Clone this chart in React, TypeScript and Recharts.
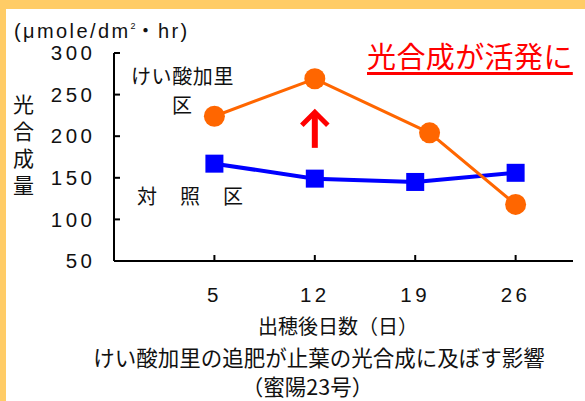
import { LineChart, Line, XAxis, YAxis, ReferenceLine } from "recharts";

// days after heading / photosynthesis (μmole/dm²・hr)
const silicaDays = [5, 12, 20, 26]; // third circle sits a bit right of the 19 tick in the original
const silicaValues = [224, 269, 204, 118];
const controlDays = [5, 12, 19, 26];
const controlValues = [167, 149, 145, 156];
const dayTicks = [5, 12, 19, 26];
const rateTicks = [50, 100, 150, 200, 250, 300];
const arrowSpan = [186, 230];

const silica = silicaDays.map((day, i) => ({ day, value: silicaValues[i] }));
const control = controlDays.map((day, i) => ({ day, value: controlValues[i] }));

const FONT = "'Noto Sans CJK JP', 'Noto Sans', sans-serif";
const LATIN = "'Liberation Sans', 'Noto Sans CJK JP', sans-serif";
const ORANGE = "#FF6600";
const BLUE = "#0000FF";
const RED = "#FF0000";

const SquareDot = (props: any) => {
  const { cx, cy, index } = props;
  if (cx == null || cy == null) return null;
  return <rect key={`sq-${index}`} x={cx - 9} y={cy - 9} width={18} height={18} fill={BLUE} />;
};

const UpArrow = (props: any) => {
  const { x1, y1, y2 } = props;
  const tip = Math.min(y1, y2);
  const base = Math.max(y1, y2);
  return (
    <g>
      <line x1={x1} y1={base} x2={x1} y2={tip + 3} stroke={RED} strokeWidth={6} />
      <polyline
        points={`${x1 - 13},${tip + 14} ${x1},${tip + 1} ${x1 + 13},${tip + 14}`}
        fill="none"
        stroke={RED}
        strokeWidth={5}
      />
    </g>
  );
};

const Note = ({ style, children }: { style: React.CSSProperties; children: React.ReactNode }) => (
  <div style={{ position: "absolute", whiteSpace: "nowrap", fontFamily: FONT, color: "#111", ...style }}>
    {children}
  </div>
);

const tickStyle = { fill: "#111", fontSize: 20.5, fontFamily: LATIN, letterSpacing: 3.5 };

export default function App() {
  return (
    <div style={{ position: "absolute", left: 0, top: 0, width: 585, height: 401, background: "#fff", overflow: "hidden" }}>
      <div style={{ position: "absolute", left: 0, top: 0, width: 585, height: 9, background: "#FFCC66" }} />
      <div style={{ position: "absolute", left: 0, top: 0, width: 6, height: 401, background: "#FFCC66" }} />

      <div style={{ position: "absolute", left: 0, top: 0 }}>
        <LineChart width={585} height={401} margin={{ top: 53, right: 12, bottom: 100, left: 54 }}>
          <XAxis
            type="number"
            dataKey="day"
            domain={[-2, 30]}
            ticks={dayTicks}
            allowDataOverflow
            height={40}
            axisLine={{ stroke: "#000", strokeWidth: 2 }}
            tickLine={{ stroke: "#000", strokeWidth: 2 }}
            tickSize={-6}
            tickMargin={32}
            tick={tickStyle}
          />
          <YAxis
            type="number"
            domain={[50, 300]}
            ticks={rateTicks}
            allowDataOverflow
            width={60}
            axisLine={{ stroke: "#000", strokeWidth: 2 }}
            tickLine={{ stroke: "#000", strokeWidth: 2 }}
            tickSize={-6}
            tickMargin={24.5}
            tick={tickStyle}
          />
          <ReferenceLine
            segment={[{ x: 12, y: arrowSpan[0] }, { x: 12, y: arrowSpan[1] }]}
            stroke={RED}
            shape={UpArrow}
          />
          <Line
            data={control}
            dataKey="value"
            stroke={BLUE}
            strokeWidth={4}
            dot={SquareDot}
            activeDot={false}
            isAnimationActive={false}
          />
          <Line
            data={silica}
            dataKey="value"
            stroke={ORANGE}
            strokeWidth={3}
            dot={{ r: 10.5, fill: ORANGE, stroke: "none" }}
            activeDot={false}
            isAnimationActive={false}
          />
        </LineChart>
      </div>

      <Note style={{ left: 14, top: 15.5, fontSize: 20, lineHeight: "20px", letterSpacing: 2.4, fontFamily: LATIN }}>
        (μmole/dm
        <sup style={{ fontSize: 9, verticalAlign: 9, letterSpacing: 0 }}>2</sup>
        ・hr)
      </Note>
      <Note
        style={{
          left: 367,
          top: 41,
          fontSize: 29,
          lineHeight: "29px",
          letterSpacing: 0.4,
          color: RED,
          textDecoration: "underline",
          textDecorationThickness: 3,
          textUnderlineOffset: 4,
        }}
      >
        光合成が活発に
      </Note>
      <Note
        style={{
          left: 12.5,
          top: 93.5,
          fontSize: 21,
          lineHeight: "21px",
          writingMode: "vertical-rl",
          letterSpacing: 5.7,
        }}
      >
        光合成量
      </Note>
      <Note style={{ left: 131, top: 66, fontSize: 20, lineHeight: "20px", letterSpacing: 0.6 }}>けい酸加里</Note>
      <Note style={{ left: 172, top: 95, fontSize: 20, lineHeight: "20px" }}>区</Note>
      <Note style={{ left: 137, top: 186, fontSize: 20, lineHeight: "20px", letterSpacing: 1.5 }}>対　照　区</Note>
      <Note style={{ left: 238, top: 316, width: 200, textAlign: "center", fontSize: 20, lineHeight: "20px" }}>
        出穂後日数（日）
      </Note>
      <Note style={{ left: 69, top: 345.5, width: 500, textAlign: "center", fontSize: 21.5, lineHeight: "21.5px" }}>
        けい酸加里の追肥が止葉の光合成に及ぼす影響
      </Note>
      <Note style={{ left: 207.5, top: 375, width: 200, textAlign: "center", fontSize: 21.5, lineHeight: "21.5px" }}>
        （蜜陽23号）
      </Note>
    </div>
  );
}
